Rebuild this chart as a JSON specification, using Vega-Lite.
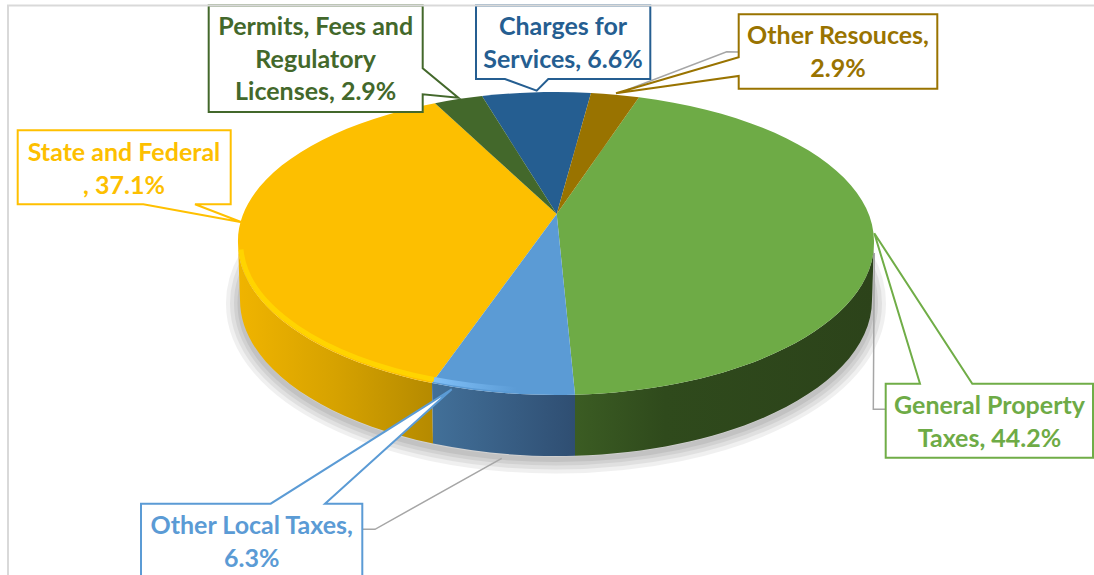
{
"$schema":"https://vega.github.io/schema/vega-lite/v6.json",
"width":1094,"height":575,"padding":0,"autosize":{"type":"none"},"background":"#ffffff",
"config":{"view":{"stroke":null}},
"data":{"values":[
{"name":"General Property Taxes","value":44.2,"label":"General Property\nTaxes, 44.2%","order":1},
{"name":"State and Federal","value":37.1,"label":"State and Federal\n, 37.1%","order":2},
{"name":"Other Local Taxes","value":6.3,"label":"Other Local Taxes,\n6.3%","order":3},
{"name":"Charges for Services","value":6.6,"label":"Charges for\nServices, 6.6%","order":4},
{"name":"Permits, Fees and Regulatory Licenses","value":2.9,"label":"Permits, Fees and\nRegulatory\nLicenses, 2.9%","order":5},
{"name":"Other Resouces","value":2.9,"label":"Other Resouces,\n2.9%","order":6}
]},
"layer":[
{"transform":[{"filter":"datum.order==1"}],
 "mark":{"type":"point","shape":"M-307,16 A316,156 0 1 0 325,16 A316,156 0 1 0 -307,16 Z","size":4,"filled":false,"opacity":0.12,"stroke":"#888888","strokeWidth":28}},
{"transform":[{"filter":"datum.order==1"}],
 "mark":{"type":"point","shape":"M-307,16 A316,156 0 1 0 325,16 A316,156 0 1 0 -307,16 Z","size":4,"filled":false,"opacity":0.14,"stroke":"#888888","strokeWidth":20}},
{"transform":[{"filter":"datum.order==1"}],
 "mark":{"type":"point","shape":"M-307,16 A316,156 0 1 0 325,16 A316,156 0 1 0 -307,16 Z","size":4,"filled":false,"opacity":0.16,"stroke":"#888888","strokeWidth":12}},
{"transform":[{"filter":"datum.order==1"}],
 "mark":{"type":"point","shape":"M-307,16 A316,156 0 1 0 325,16 A316,156 0 1 0 -307,16 Z","size":4,"filled":false,"opacity":0.2,"stroke":"#888888","strokeWidth":5}},
{"transform":[{"filter":"datum.order==2"}],
 "mark":{"type":"point","shape":"M-309,-44.5 A318,152 0 0 0 -115,95.5 L-114,156.1 A316,156 0 0 1 -307,12.5 Z","size":4,"filled":true,"opacity":1,
  "fill":{"gradient":"linear","x1":0,"y1":0,"x2":1,"y2":0,"stops":[{"offset":0,"color":"#F0B400"},{"offset":0.5,"color":"#D6A200"},{"offset":1,"color":"#B58A00"}]}}},
{"transform":[{"filter":"datum.order==3"}],
 "mark":{"type":"point","shape":"M-115,95.5 A318,152 0 0 0 28,107.2 L28,168.3 A316,156 0 0 1 -114,156.1 Z","size":4,"filled":true,"opacity":1,
  "fill":{"gradient":"linear","x1":0,"y1":0,"x2":1,"y2":0,"stops":[{"offset":0,"color":"#427099"},{"offset":1,"color":"#2F4E72"}]}}},
{"transform":[{"filter":"datum.order==1"}],
 "mark":{"type":"point","shape":"M28,107.2 A318,152 0 0 0 327,-44.5 L325,12.5 A316,156 0 0 1 28,168.3 Z","size":4,"filled":true,"opacity":1,
  "fill":{"gradient":"linear","x1":0,"y1":0,"x2":1,"y2":0,"stops":[{"offset":0,"color":"#3B5C23"},{"offset":0.3,"color":"#2F4A1C"},{"offset":1,"color":"#2C431A"}]}}},
{"mark":{"type":"point","size":4,"filled":true,"opacity":1},
 "encoding":{
  "shape":{"field":"name","type":"nominal","legend":null,"scale":{"domain":["General Property Taxes","State and Federal","Other Local Taxes","Charges for Services","Permits, Fees and Regulatory Licenses","Other Resouces"],
   "range":[
    "M9.7,-73.5 L92,-190.3 A318,149 0 0 1 327,-44.5 A318,152 0 0 1 28,107.2 Z",
    "M9.7,-73.5 L-115,95.5 A318,152 0 0 1 -309,-44.5 A318,149 0 0 1 -112,-184.3 Z",
    "M9.7,-73.5 L28,107.2 A318,152 0 0 1 -115,95.5 Z",
    "M9.7,-73.5 L-65,-191.4 A318,149 0 0 1 44,-194.6 Z",
    "M9.7,-73.5 L-112,-184.3 A318,149 0 0 1 -65,-191.4 Z",
    "M9.7,-73.5 L44,-194.6 A318,149 0 0 1 92,-190.3 Z"]}},
  "color":{"field":"name","type":"nominal","legend":null,"scale":{"domain":["General Property Taxes","State and Federal","Other Local Taxes","Charges for Services","Permits, Fees and Regulatory Licenses","Other Resouces"],"range":["#6EAB46","#FDBF00","#5B9BD5","#255E91","#43682B","#997300"]}}
 }},
{"transform":[{"filter":"datum.order==2"}],
 "mark":{"type":"point","shape":"M-306,-38 A314,148 0 0 0 -113,92","size":4,"filled":false,"opacity":1,"strokeWidth":5,"stroke":"#FFD400"}},
{"transform":[{"filter":"datum.order==3"}],
 "mark":{"type":"point","shape":"M-113,92 A314,148 0 0 0 -30,102","size":4,"filled":false,"opacity":1,"strokeWidth":5,
  "stroke":{"gradient":"linear","x1":0,"y1":0,"x2":1,"y2":0,"stops":[{"offset":0,"color":"#80C0F8"},{"offset":1,"color":"#5B9BD5"}]}}},
{"transform":[{"filter":"datum.order==1||datum.order==3||datum.order==6"}],
 "mark":{"type":"point","size":4,"filled":false,"opacity":1,"stroke":"#A6A6A6","strokeWidth":1.5},
 "encoding":{"shape":{"field":"name","type":"nominal","legend":null,"scale":{"domain":["General Property Taxes","Other Local Taxes","Other Resouces"],
  "range":["M327.3,-34.5 L326.3,121.8 L338.7,121.8","M-184.7,241.8 L-172,241.8 L-45.3,170.8","M191.7,-235.5 L179.7,-235.8 L79.7,-197.5"]}}}},
{"mark":{"type":"point","size":4,"filled":true,"opacity":1,"fill":"#ffffff","strokeWidth":2},
 "encoding":{
  "shape":{"field":"name","type":"nominal","legend":null,"scale":{"domain":["General Property Taxes","State and Federal","Other Local Taxes","Charges for Services","Permits, Fees and Regulatory Licenses","Other Resouces"],
   "range":[
    "M338.7,96.2 L373,96.2 L327.3,-54.2 L425.3,96.2 L546,96.2 L546,170.2 L338.7,170.2 Z",
    "M-529.3,-157.2 L-316.3,-157.2 L-316.3,-83.2 L-352,-83.2 L-305.3,-65.2 L-403.7,-83.2 L-529.3,-83.2 Z",
    "M-406,216.2 L-276.3,216.2 L-95.3,101.8 L-222,216.2 L-184.7,216.2 L-184.7,295 L-406,295 Z",
    "M-71,-282 L103.3,-282 L103.3,-208.5 L1.3,-208.5 L-10.3,-196.8 L-42,-208.5 L-71,-208.5 Z",
    "M-338.3,-282 L-124.3,-282 L-124.3,-219.2 L-88.7,-189.8 L-124.3,-193.2 L-124.3,-175.5 L-338.3,-175.5 Z",
    "M191.7,-273.2 L390.3,-273.2 L390.3,-198.8 L191.7,-198.8 L191.7,-211.5 L69,-194.2 L191.7,-230.2 Z"]}},
  "stroke":{"field":"name","type":"nominal","legend":null,"scale":{"domain":["General Property Taxes","State and Federal","Other Local Taxes","Charges for Services","Permits, Fees and Regulatory Licenses","Other Resouces"],"range":["#70AD47","#FFC000","#5B9BD5","#255E91","#43682B","#997300"]}}
 }},
{"transform":[{"filter":"datum.order==1"}],
 "mark":{"type":"point","shape":"M-539,287.5 L-539,-282 L547,-282","size":4,"filled":false,"stroke":"#D9D9D9","strokeWidth":2,"opacity":1}},
{"mark":{"type":"text","font":"Lato","fontWeight":"bold","fontSize":25,"lineBreak":"\n","lineHeight":32.5,"align":"center","baseline":"middle"},
 "encoding":{
  "x":{"field":"order","type":"quantitative","axis":null,"scale":{"domain":[1,2,3,4,5,6],"range":[989.5,124,251.7,563,315.7,838],"zero":false,"nice":false}},
  "y":{"field":"order","type":"quantitative","axis":null,"scale":{"domain":[1,2,3,4,5,6],"range":[406,153,526,27,27,36],"zero":false,"nice":false}},
  "text":{"field":"label","type":"nominal"},
  "color":{"field":"name","type":"nominal","legend":null,"scale":{"domain":["General Property Taxes","State and Federal","Other Local Taxes","Charges for Services","Permits, Fees and Regulatory Licenses","Other Resouces"],"range":["#70AD47","#FFC000","#5B9BD5","#255E91","#43682B","#997300"]}}
 }}
],
"resolve":{"scale":{"shape":"independent","x":"independent","y":"independent"}}
}
